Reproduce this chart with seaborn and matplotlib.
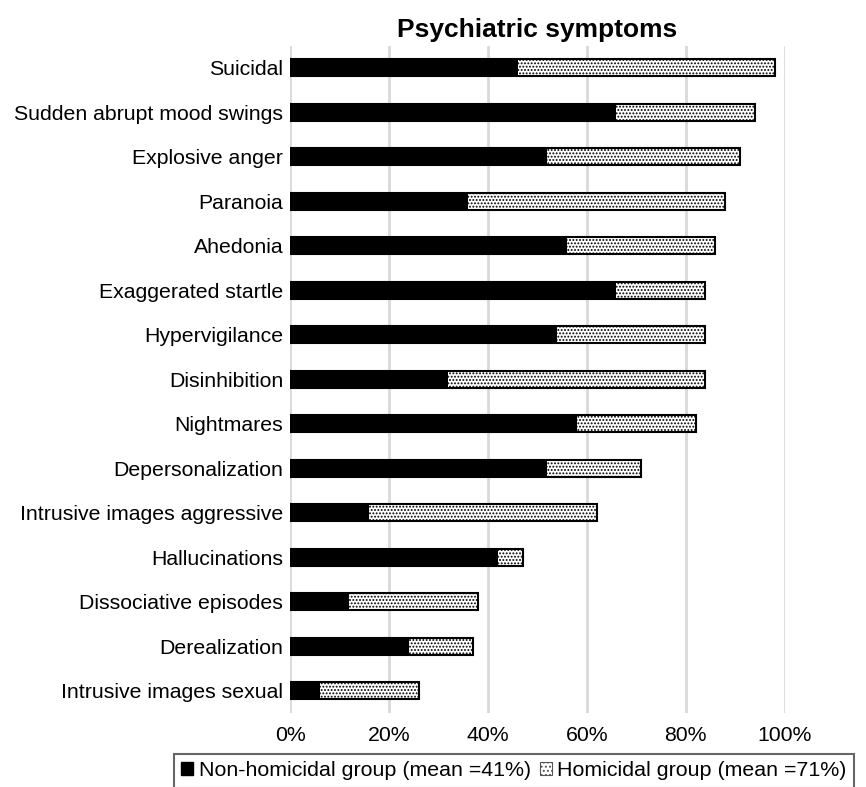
import numpy as np
import pandas as pd
import matplotlib
matplotlib.use("Agg")
import matplotlib.pyplot as plt
import seaborn as sns
from matplotlib.patches import Patch
from matplotlib.ticker import PercentFormatter

# data (percent of each group)
symptoms = ["Suicidal", "Sudden abrupt mood swings", "Explosive anger", "Paranoia",
            "Ahedonia", "Exaggerated startle", "Hypervigilance", "Disinhibition",
            "Nightmares", "Depersonalization", "Intrusive images aggressive",
            "Hallucinations", "Dissociative episodes", "Derealization",
            "Intrusive images sexual"]
non_homicidal = [46, 66, 52, 36, 56, 66, 54, 32, 58, 52, 16, 42, 12, 24, 6]
homicidal = [98, 94, 91, 88, 86, 84, 84, 84, 82, 71, 62, 47, 38, 37, 26]
legend_labels = ["Non-homicidal group (mean =41%)", "Homicidal group (mean =71%)"]
title = "Psychiatric symptoms"

df = pd.DataFrame({"symptom": symptoms, "non": non_homicidal, "hom": homicidal})

sns.set_style("white")
plt.rcParams["font.family"] = ["Liberation Sans", "DejaVu Sans"]
plt.rcParams["hatch.linewidth"] = 0.9
plt.rcParams["text.color"] = "black"

fig = plt.figure(figsize=(8.66, 7.87), dpi=100)
ax = fig.add_axes([0.335, 0.094, 0.571, 0.848])

# homicidal bar drawn full length with dots, black non-homicidal bar on top
sns.barplot(data=df, x="hom", y="symptom", ax=ax, color="white", width=0.38,
            edgecolor="black", linewidth=1.5, hatch=".....", orient="h", zorder=2)
sns.barplot(data=df, x="non", y="symptom", ax=ax, color="black", width=0.38,
            edgecolor="black", linewidth=0, orient="h", zorder=3)

ax.set_xlim(0, 100)
ax.set_ylim(len(symptoms) - 0.5, -0.5)
ax.set_xticks([0, 20, 40, 60, 80, 100])
ax.xaxis.set_major_formatter(PercentFormatter(decimals=0))
ax.grid(axis="x", color="#d9d9d9", linewidth=2, zorder=0)
ax.set_axisbelow(True)
for s in ax.spines.values():
    s.set_visible(False)
ax.tick_params(axis="both", length=0, labelsize=15.3, colors="black")
ax.tick_params(axis="y", pad=5)
ax.tick_params(axis="x", pad=9)
ax.set_xlabel("")
ax.set_ylabel("")
ax.set_title(title, fontsize=19, fontweight="bold", pad=6, color="black")

handles = [Patch(facecolor="black", edgecolor="black", label=legend_labels[0]),
           Patch(facecolor="white", edgecolor="#555555", hatch="....", linewidth=0.8,
                 label=legend_labels[1])]
leg = fig.legend(handles=handles, loc="upper left", bbox_to_anchor=(174 / 866, 1 - 754 / 787),
                 ncol=2, fontsize=15.4, frameon=True, fancybox=False, handlelength=0.55,
                 handleheight=0.55, handletextpad=0.25, columnspacing=0.45, borderpad=0.35,
                 borderaxespad=0)
leg.get_frame().set_edgecolor("#404040")
leg.get_frame().set_linewidth(1.5)
for t in leg.get_texts():
    t.set_color("black")

fig.savefig("out.png", dpi=100)
